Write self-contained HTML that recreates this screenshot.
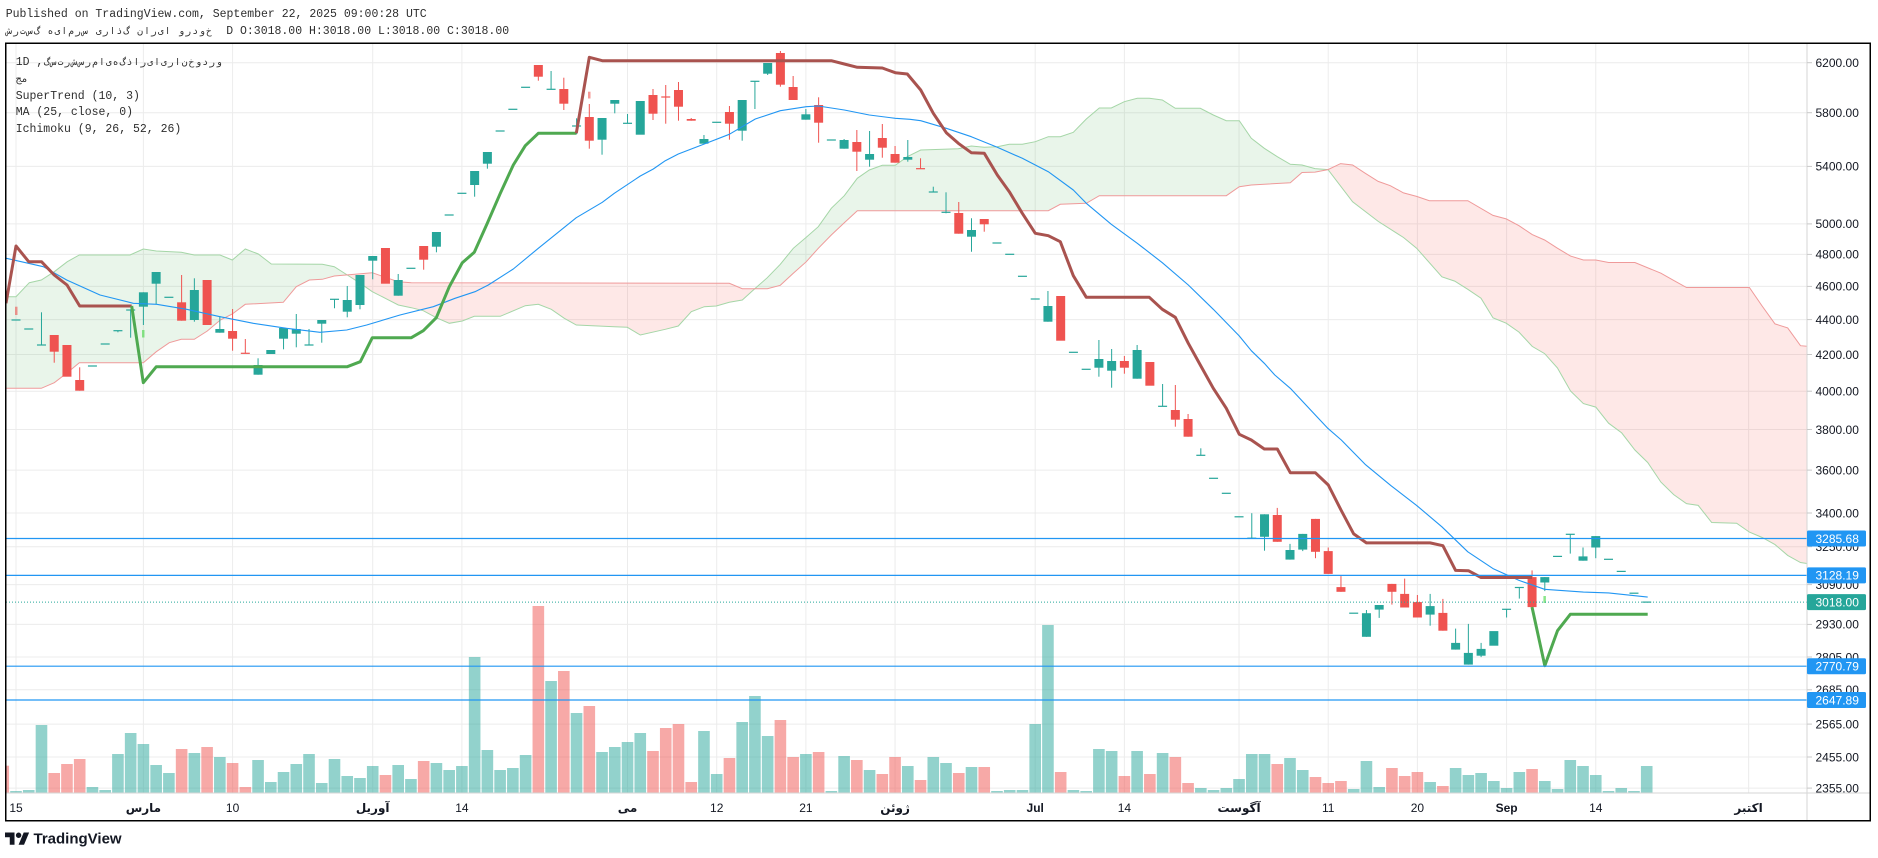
<!DOCTYPE html>
<html><head><meta charset="utf-8">
<style>
html,body{margin:0;padding:0;background:#fff;}
body{width:1878px;height:858px;position:relative;overflow:hidden;font-family:"Liberation Mono","DejaVu Sans Mono","DejaVu Sans",monospace;}
.t{position:absolute;white-space:pre;font-size:11.5px;color:#2e2e2e;line-height:14px;}
.fa{font-family:"DejaVu Sans Mono","DejaVu Sans",monospace;font-size:10px;}
.cells{display:inline-block;white-space:pre;}
.cells span{display:inline-block;width:6.9px;text-align:center;font-family:"DejaVu Sans Mono","DejaVu Sans",monospace;font-size:9.5px;overflow:visible;}
svg{position:absolute;left:0;top:0;}
.pl{font-family:"Liberation Sans","DejaVu Sans",sans-serif;font-size:12px;fill:#131722;}
.bl{font-family:"Liberation Sans","DejaVu Sans",sans-serif;font-size:12px;fill:#ffffff;}
.tl{font-family:"Liberation Sans","DejaVu Sans",sans-serif;font-size:12px;fill:#131722;text-anchor:middle;}
.tb{font-family:"Liberation Sans","DejaVu Sans",sans-serif;font-size:12px;fill:#131722;text-anchor:middle;font-weight:bold;}
</style></head><body>
<svg id="s" width="1878" height="858" viewBox="0 0 1878 858" xmlns="http://www.w3.org/2000/svg">
<defs id="defs">
<clipPath id="plotclip"><rect x="6" y="43" width="1801" height="750"/></clipPath>
</defs>
<rect x="0" y="0" width="1878" height="858" fill="#fff"/>
<g id="grid" stroke="#ececec" stroke-width="1"></g>
<g id="plot" clip-path="url(#plotclip)"></g>
<line x1="6" y1="793" x2="1870" y2="793" stroke="#d6d6d6" stroke-width="1"/>
<line x1="1807" y1="43" x2="1807" y2="821" stroke="#d6d6d6" stroke-width="1"/>
<g id="ticks" stroke="#c8c8c8" stroke-width="1"></g>
<g>
<text class="pl" x="1815.5" y="67">6200.00</text>
<text class="pl" x="1815.5" y="117">5800.00</text>
<text class="pl" x="1815.5" y="170.7">5400.00</text>
<text class="pl" x="1815.5" y="228.2">5000.00</text>
<text class="pl" x="1815.5" y="258.7">4800.00</text>
<text class="pl" x="1815.5" y="290.7">4600.00</text>
<text class="pl" x="1815.5" y="323.9">4400.00</text>
<text class="pl" x="1815.5" y="358.8">4200.00</text>
<text class="pl" x="1815.5" y="395.5">4000.00</text>
<text class="pl" x="1815.5" y="433.8">3800.00</text>
<text class="pl" x="1815.5" y="474.4">3600.00</text>
<text class="pl" x="1815.5" y="517.3">3400.00</text>
<text class="pl" x="1815.5" y="551">3250.00</text>
<text class="pl" x="1815.5" y="588.9">3090.00</text>
<text class="pl" x="1815.5" y="628.7">2930.00</text>
<text class="pl" x="1815.5" y="661.3">2805.00</text>
<text class="pl" x="1815.5" y="694.1">2685.00</text>
<text class="pl" x="1815.5" y="728.4">2565.00</text>
<text class="pl" x="1815.5" y="761.3">2455.00</text>
<text class="pl" x="1815.5" y="792.4">2355.00</text>
</g>
<g>
<rect x="1807" y="530.5" width="59" height="16" rx="1.5" fill="#2196f3"/>
<text class="bl" x="1815.5" y="542.8">3285.68</text>
<rect x="1807" y="567.4" width="59" height="16" rx="1.5" fill="#2196f3"/>
<text class="bl" x="1815.5" y="579.7">3128.19</text>
<rect x="1807" y="594.1" width="59" height="16" rx="1.5" fill="#26a69a"/>
<text class="bl" x="1815.5" y="606.4">3018.00</text>
<rect x="1807" y="658.2" width="59" height="16" rx="1.5" fill="#2196f3"/>
<text class="bl" x="1815.5" y="670.5">2770.79</text>
<rect x="1807" y="692" width="59" height="16" rx="1.5" fill="#2196f3"/>
<text class="bl" x="1815.5" y="704.3">2647.89</text>
</g>
<g>
<text class="tl" x="16" y="812">15</text>
<text class="tb" x="143.4" y="812">مارس</text>
<text class="tl" x="232.6" y="812">10</text>
<text class="tb" x="372.7" y="812">آوریل</text>
<text class="tl" x="461.9" y="812">14</text>
<text class="tb" x="627.5" y="812">می</text>
<text class="tl" x="716.7" y="812">12</text>
<text class="tl" x="805.9" y="812">21</text>
<text class="tb" x="895.1" y="812">ژوئن</text>
<text class="tb" x="1035.2" y="812">Jul</text>
<text class="tl" x="1124.4" y="812">14</text>
<text class="tb" x="1239" y="812">آگوست</text>
<text class="tl" x="1328.2" y="812">11</text>
<text class="tl" x="1417.4" y="812">20</text>
<text class="tb" x="1506.6" y="812">Sep</text>
<text class="tl" x="1595.8" y="812">14</text>
<text class="tb" x="1748.6" y="812">اکتبر</text>
</g>
<rect x="5.75" y="43.25" width="1864.5" height="777.5" fill="none" stroke="#000" stroke-width="1.5"/>
<g transform="translate(5,829.8) scale(0.68)" fill="#131722">
<path d="M14 22H7V11H0V4h14v18zM28 22h-8l7.5-18h8L28 22z"/><circle cx="20" cy="8" r="4"/>
</g>
<text x="33.5" y="843.5" font-family="Liberation Sans, DejaVu Sans, sans-serif" font-size="15" font-weight="bold" fill="#131722">TradingView</text>
</svg>

<div class="t" style="left:5.7px;top:8px;">Published on TradingView.com, September 22, 2025 09:00:28 UTC</div>
<div class="t" style="left:5.7px;top:24.7px;"><span class="cells" id="hdrfa">شرتسگ هیامرس یراذگ ناریا وردوخ  </span>D O:3018.00 H:3018.00 L:3018.00 C:3018.00</div>
<div class="t" style="left:15.7px;top:55.7px;">1D ,<span class="cells" id="legfa">گسترشسرمایهگذاریایرانخودرو</span></div>
<div class="t" style="left:15.7px;top:73px;"><span class="fa">مج</span></div>
<div class="t" style="left:15.7px;top:89.7px;">SuperTrend (10, 3)</div>
<div class="t" style="left:15.7px;top:106.3px;">MA (25, close, 0)</div>
<div class="t" style="left:15.7px;top:123px;">Ichimoku (9, 26, 52, 26)</div>

<script>
(function(){
// split persian strings into monospace cells (isolated letters, visual LTR order)
['hdrfa','legfa'].forEach(function(id){
  var e=document.getElementById(id);var s=e.textContent;e.textContent='';
  Array.from(s).forEach(function(ch){var sp=document.createElement('span');sp.textContent=(ch===' ')?'\u00a0':ch;e.appendChild(sp);});
});

const NS='http://www.w3.org/2000/svg';
const plot=document.getElementById('plot');
const defs=document.getElementById('defs');
const grid=document.getElementById('grid');
const ticks=document.getElementById('ticks');
function el(tag,attrs,parent){const e=document.createElementNS(NS,tag);for(const k in attrs)e.setAttribute(k,attrs[k]);(parent||plot).appendChild(e);return e;}
const pts=a=>a.map(p=>p[0]+','+p[1]).join(' ');
const X=i=>16+12.74*i;

const hy=[62.7,112.7,166.4,223.9,254.4,286.4,319.6,354.5,391.2,429.5,470.1,513,546.7,584.6,624.4,657,689.8,724.1,757,788.1];
hy.forEach(y=>{el('line',{x1:6,y1:y,x2:1807,y2:y},grid);el('line',{x1:1807,y1:y,x2:1812,y2:y},ticks);});
[0,10,17,28,35,48,55,62,69,80,87,96,103,110,117,124,136].forEach(i=>{const x=X(i);el('line',{x1:x,y1:43,x2:x,y2:793},grid);});

const A=[[6,296.7],[16,296.7],[29.3,282.7],[41.3,280],[54.3,271.7],[67.3,261.7],[79.3,255],[130,255],[143.3,249],[156.3,251],[181.3,252.3],[194.3,255],[220,255],[232.3,260],[245.3,249],[258.3,254],[271.3,264],[322.3,264.3],[334.3,266.7],[347.3,275],[360.3,283.3],[372.3,291.7],[385.3,298.3],[398.3,305],[411.3,307.7],[423.3,310.7],[436.3,317.7],[449.3,323.3],[462.3,321],[474.3,316.3],[500.3,316.3],[525.3,305.7],[538.3,304.3],[551.3,309.3],[564.3,318.3],[576.3,325],[614.3,326.7],[627.3,327.3],[640.3,335],[665.3,329.3],[678.3,326],[691.3,311.7],[704.3,306.7],[716.3,306],[729.3,302.3],[742.3,300],[755.3,288.3],[767.3,277.7],[780.3,264.3],[793.3,248.3],[806.3,237.3],[818.3,226.7],[831.3,208.3],[844.3,195.7],[857.3,178.3],[869.3,170],[882.3,165.3],[895.3,165.3],[907.3,156.7],[920.7,150],[958.3,148.7],[971.3,146],[984.3,147.3],[997.3,146.7],[1009.3,144.3],[1022.3,144.3],[1035.3,141.7],[1048.3,136.7],[1060.3,136.7],[1073.3,132.3],[1086.3,119],[1099.3,108],[1111.3,108],[1124.3,101.7],[1137.3,98.3],[1149.3,98.3],[1162.3,100],[1175.3,108.3],[1200.3,108.3],[1213.3,115],[1226.3,120.7],[1239.3,120.7],[1251.3,138.3],[1264.3,148.3],[1277.3,156.7],[1290.3,164.3],[1302,165],[1315,168.6],[1328,169.6],[1352.6,201.8],[1378.2,221.4],[1403.5,237.5],[1416.6,248.2],[1441.9,276.8],[1454.7,281.1],[1467.8,289.3],[1481,298.2],[1493,317.9],[1506.2,323.2],[1519,332.1],[1532.2,346.4],[1544.6,353.6],[1557.4,367.9],[1570.6,391.1],[1583.4,403.6],[1595.8,407.1],[1608.6,423.2],[1621.7,432.9],[1634.9,450],[1647.7,462.5],[1660.9,482.1],[1673.7,494.6],[1686.5,503.6],[1698.2,505.4],[1711.7,522.5],[1736.6,523.2],[1749.4,532.1],[1762.2,537.5],[1775,544.6],[1787.7,555.4],[1800.5,562.5],[1808,563.6]];
const B=[[6,388.3],[41.3,388.3],[54.3,382.7],[67.3,372.7],[79.3,362.7],[143.3,362.7],[156.3,351.7],[169.3,342.7],[181.3,339.3],[194.3,339.3],[207.3,331],[220.3,320],[232.3,314],[245.3,304.3],[283.3,302.3],[296.3,286.7],[309.3,280],[322.3,279.3],[334.3,276],[372.3,272.7],[385.3,277.3],[398.3,281.7],[411.3,282.7],[729.3,283.3],[742.3,288.7],[767.3,288.7],[780.3,285.3],[793.3,273.3],[806.3,261.7],[818.3,248.3],[831.3,235],[844.3,222.7],[857.3,210.7],[1048.3,210.7],[1060.3,204.3],[1086.3,203.3],[1099.3,195.7],[1226.3,195.7],[1239.3,186.7],[1251.3,185],[1290.3,182.7],[1302,172.5],[1315,172.1],[1328,169.6],[1340.6,163.6],[1352.6,165],[1365.1,173.2],[1378.2,181.4],[1390.3,185.7],[1403.5,192.9],[1416.6,196.4],[1429.4,200.7],[1467.8,200.7],[1493,215.4],[1506.2,218.9],[1519,225.7],[1532.2,234.6],[1544.6,240],[1557.4,248.2],[1570.6,256.1],[1583.4,260],[1595.8,260],[1608.6,262.5],[1634.9,262.5],[1660.9,273.2],[1673.7,280.4],[1686.5,287.5],[1749.4,287.5],[1762.2,306.1],[1775,323.9],[1787.7,327.9],[1800.5,345.7],[1808,346.4]];
const ca=el('clipPath',{id:'cAbove'},defs);el('polygon',{points:pts(B)+' 1812,0 2,0'},ca);
const cb=el('clipPath',{id:'cBelow'},defs);el('polygon',{points:pts(B)+' 1812,900 2,900'},cb);
const between=pts(A)+' '+pts(B.slice().reverse());
const g1=el('g',{'clip-path':'url(#cAbove)'});el('polygon',{points:between,fill:'rgba(76,175,80,0.12)'},g1);
const g2=el('g',{'clip-path':'url(#cBelow)'});el('polygon',{points:between,fill:'rgba(244,67,54,0.12)'},g2);
el('polyline',{points:pts(A),fill:'none',stroke:'#a5d6a7','stroke-width':1});
el('polyline',{points:pts(B),fill:'none',stroke:'#ef9a9a','stroke-width':1});

const V=[791,790,725,773,764,759,787,790,754,733,744,765,773,749,753,747,757,763,787,760,782,772,764,754,783,759,776,778,766,775,765,779,761,763,770,766,657,750,770,768,755,606,681,671,713,706,752,747,742,733,751,728,724,782,731,774,758,722,696,736,720,757,754,752,791,756,760,770,774,757,766,780,757,763,773,767,767,791,790,790,724,625,772,790,791,749,751,776,751,774,753,757,783,788,790,788,779,754,754,764,758,770,777,783,781,789,761,787,768,776,772,782,786,768,775,773,781,788,772,769,781,789,760,766,775,791,788,791,766];
const C=[
[1,320,320],[1,329,329],[1,345,345,312.3,345],[0,335,351.7,335,362.7],[0,345,376.7],[0,380,390.7,367.3,390.7],[1,366,366],[1,344,344],[1,330.7,330.7,330.7,332.3],[1,310,310,309.3,337.7],
[1,292.3,306.7,292.3,325],[1,272,283.7,272,304.3],[1,297.3,297.3],[0,302.3,320.7,275,320.7],[1,290,320,278.3,321.7],[0,280,325],[1,329,332.7,316,332.7],[0,331,338.7,309,350.7],[0,353.3,353.3,339,353.3],[1,365,374.7,358.3,374.7],
[1,350,354],[1,328,338.7,328,349.3],[1,329,333.7,314,347.3],[1,345,345,329,345],[1,320,323.7,320,342.7],[1,299.3,299.3,299.3,308.3],[1,300,311.7,286,317.3],[1,275,305,275,309.3],[1,256,260.7,256,279.3],[0,248,283.7],
[1,280,295.7,274,295.7],[1,268.3,268.3],[0,246,259.7,246,269.7],[1,232,246.7,232,252.3],[1,215,215],[1,193.3,193.3],[1,171,185,171,196.7],[1,152,163.7,152,168.7],[1,131,131],[1,109.3,109.3],
[1,87.3,87.3],[0,65,76.7,65,80.7],[1,89.3,89.3,71,89.3],[0,89,103.7,77.7,110],[1,126,126,118.3,134.3],[0,117,140.7,104,148.7],[1,118,139.7,118,154.7],[1,100,103.7,100,113.3],[1,123.3,123.3,114,123.3],[1,101,134.7],
[0,95,113.7,89,120],[0,97,97,85,123.7],[0,90,106.7,82,120.7],[0,119,120.7,118,120.7],[1,139,143.7,135,143.7],[1,122.3,122.3],[0,112,123.7,106,139.7],[1,100,130.7,100,140.7],[1,81.3,81.3,81.3,109],[1,63,73.7,63,75],
[0,53,84.7,51,86.7],[0,87,100,76,100],[1,114.3,119.7,109,119.7],[0,105,122.7,97.3,142.7],[1,140,140],[1,140,148.7,139,148.7],[0,142,151.7,130,171],[1,154,159.7,131,166.7],[0,138,147.7,124,157.7],[0,154,162.7,146,162.7],
[1,157,159.7,140,161.7],[0,168.7,168.7,158.3,168.7],[1,192,192,186.7,192],[1,212.3,212.3,192.3,213.3],[0,213,233.7,202,233.7],[1,230,236.7,218.3,251.7],[0,219,224.3,219,231.7],[1,243,243],[1,254.3,254.3],[1,276.3,276.3],
[1,299,299],[1,306,321.7,291,321.7],[0,296,340.7],[1,352.3,352.3],[1,369.3,369.3],[1,359,367.7,340,376.7],[1,361,370.7,349,387.7],[0,361,367.7,356,373.7],[1,350,378.7,345,378.7],[0,362,385.7],
[1,406.3,406.3,384,406.3],[0,410,419.7,385,426.7],[0,419,436.7,414,436.7],[1,455.3,455.3,448.3,455.3],[1,478.3,478.3],[1,493.3,493.3],[1,516.8,516.8],[1,538.2,538.2,513.2,538.2],[1,514.3,536.8,514.3,550.7],[0,515,541.8,507.9,541.8],
[1,550,559.6,543.9,559.6],[1,533.9,549.6,533.9,551.1],[0,518.9,551.8,518.9,558.2],[0,551.1,573.9,547.5,573.9],[0,587.1,591.8,576.1,591.8],[1,613.2,613.2],[1,613.2,636.8,610,636.8],[1,605,609.6,605,617.9],[0,583.9,591.8,583.9,604.6],[0,593.9,607.5,578.6,607.5],
[0,602.1,617.5,595,617.5],[1,606.1,614.6,593.9,625.7],[0,612.9,630.7,598.9,630.7],[1,642.9,649.6,628.6,649.6],[1,652.9,664.6,623.9,664.6],[1,648.9,655.7,642.9,657.1],[1,631.1,645.7],[1,609.3,609.3,609.3,617.5],[1,587.5,587.5,587.5,598.6],[0,577.1,607.1,570.4,610.7],
[1,577.1,582.5,577.1,591.1],[1,556.4,556.4],[1,534.3,534.3,534.3,553.6],[1,556.4,560.7,547.5,560.7],[1,536.1,547.5,536.1,558.2],[1,559.3,559.3],[1,571.4,571.4],[1,593.2,593.2],[1,602.1,602.1]
];
const vg=el('g',{});
el('rect',{x:X(-1)-5.8,y:765.7,width:11.6,height:793-765.7,fill:'rgba(239,83,80,0.5)'},vg);
V.forEach((t,i)=>{const up=C[i]?C[i][0]:1;el('rect',{x:(X(i)-5.8).toFixed(2),y:t,width:11.6,height:(793-t).toFixed(2),fill:up?'rgba(38,166,154,0.5)':'rgba(239,83,80,0.5)'},vg);});

const cg=el('g',{});
C.forEach((c,i)=>{const x=X(i);const col=c[0]?'#26a69a':'#ef5350';
 if(c.length>3){el('line',{x1:x,y1:c[3],x2:x,y2:c[4],stroke:col,'stroke-width':1},cg);}
 const h=Math.max(1.2,c[2]-c[1]);const y=c[2]-c[1]<1.2?c[1]-0.6:c[1];
 el('rect',{x:(x-4.5).toFixed(2),y:y,width:9,height:h.toFixed(2),fill:col},cg);
});

const MA=[[6.3,258.3],[43.3,266.7],[66.7,280],[100,295],[133.3,303.3],[156.7,304.3],[186.7,309.3],[220,316.7],[253.3,323.3],[286.7,328.3],[320,332.3],[346.7,330],[366.7,325],[400,315],[433.3,306.7],[455,298.3],[475,291.7],[488.3,285],[513.3,269],[538.3,248.3],[576.3,217.7],[602.3,202.3],[614.3,193.3],[640.3,176],[653.3,169],[665.3,160.7],[678.3,154],[704.3,144],[729.3,134.3],[755.3,119],[780.3,110.7],[806.3,106.7],[818.3,106],[844.3,110],[869.3,115],[895.3,118.3],[910,119.3],[920.7,120.7],[946.3,128.3],[971.3,136.7],[997.3,147.3],[1022.3,158.3],[1048.3,171.7],[1073.3,190],[1086.3,203.3],[1111.3,224.3],[1137.3,243.3],[1162.3,262.7],[1188.3,285],[1213.3,309.3],[1239.3,336],[1251.3,350.7],[1264.3,363.3],[1274.8,375],[1290.3,388.3],[1315.3,415],[1327.4,427.9],[1341.3,440],[1365.1,464.3],[1391,485.7],[1416.6,505.4],[1441.9,526.8],[1467.8,551.8],[1493,568.6],[1519,580.4],[1544.6,589.3],[1583.4,592.1],[1608.6,592.9],[1647.7,597.1]];
el('polyline',{points:pts(MA),fill:'none',stroke:'#2196f3','stroke-width':1.1,'stroke-linejoin':'round'});

const stR1="6,303.3 16,246 28.7,261.7 41.5,261.7 54.2,275 67,285 79.7,306 131.7,306";
const stG1="131.7,306 143.3,382.7 156.3,366.7 347.3,366.7 360.3,361.7 372.3,337.7 411.3,337.7 423.3,330.7 436.3,317.7 449.3,286.7 462.3,262.7 474.3,252.3 487.3,223.3 500.3,193.3 513.3,165 525.3,145.7 538.3,133.3 576.3,133.3";
const stR2="576.3,133.3 589.3,57.3 602.3,60.7 831.3,60.7 844.3,64 857.3,67.3 882.3,68 895.3,72.7 907.3,74 920.7,90 933.3,113.3 946.3,132.7 958.3,143.3 971.3,152.7 984.3,153.3 997.3,175 1009.3,191.7 1022.3,213.3 1035.3,233.3 1048.3,235.7 1060.3,241.7 1073.3,275.7 1086.3,297.3 1149.3,297.3 1162.3,309.3 1175.3,317.3 1188.3,343.3 1200.3,365 1213.3,388.3 1226.3,408.3 1239.3,434.3 1251.3,440 1264.3,449 1277.3,449 1290.3,472.7 1315.3,472.7 1328.3,485 1341,510 1353.7,533.9 1366.4,542.9 1430.1,542.9 1442.9,545.7 1455.6,570.4 1468.4,570.7 1481.1,577.5 1532,577.5";
const stG2="1532,607 1544.8,665.7 1557.5,630.7 1570.3,614.3 1647.7,614.3";
[[stR1,'#a9534f'],[stG1,'#4fa950'],[stR2,'#a9534f'],[stG2,'#4fa950']].forEach(s=>el('polyline',{points:s[0],fill:'none',stroke:s[1],'stroke-width':3,'stroke-linejoin':'round','stroke-linecap':'butt'}));

el('rect',{x:15,y:306.7,width:2.5,height:8.3,fill:'rgba(239,83,80,0.6)'});
el('rect',{x:142,y:330,width:2.5,height:7.5,fill:'rgba(90,220,90,0.7)'});
el('rect',{x:588,y:91.7,width:2.5,height:6.8,fill:'rgba(239,83,80,0.6)'});
el('rect',{x:1543.4,y:596,width:2.5,height:7,fill:'rgba(90,220,90,0.7)'});

[538.5,575.4,666.2,700].forEach(y=>el('line',{x1:6,y1:y,x2:1807,y2:y,stroke:'#2196f3','stroke-width':1.2}));
el('line',{x1:6,y1:602.1,x2:1807,y2:602.1,stroke:'#26a69a','stroke-width':1,'stroke-dasharray':'1,2'});
})();
</script>
</body></html>
